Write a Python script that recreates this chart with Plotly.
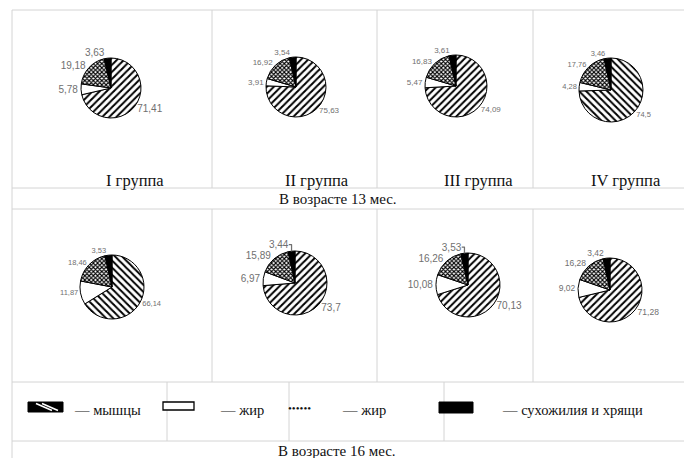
import plotly.graph_objects as go

W, H = 684, 458

components = ["мышцы", "жир", "жир", "сухожилия и хрящи"]
slice_ids = ["m", "f1", "f2", "t"]
groups = ["I группа", "II группа", "III группа", "IV группа"]
ages = ["В возрасте 13 мес.", "В возрасте 16 мес."]

vals_13 = [
    [71.41, 5.78, 19.18, 3.63],
    [75.63, 3.91, 16.92, 3.54],
    [74.09, 5.47, 16.83, 3.61],
    [74.5, 4.28, 17.76, 3.46],
]
vals_16 = [
    [66.14, 11.87, 18.46, 3.53],
    [73.7, 6.97, 15.89, 3.44],
    [70.13, 10.08, 16.26, 3.53],
    [71.28, 9.02, 16.28, 3.42],
]

# layout: pie centres (px), radius (px), hatch direction, label size
pies_13 = [((111, 88), 30, "/", 10), ((296, 87), 30, "/", 8), ((456, 86), 31, "/", 8), ((611, 90), 32, "\\", 7.5)]
pies_16 = [((112, 287), 32, "\\", 7.5), ((295, 283), 32, "/", 10), ((468, 285), 32, "/", 10), ((610, 290), 32, "/", 8.5)]

def fx(px):
    return px / W

def fy(py):
    return 1 - py / H

def fmt(v):
    return ("%g" % v).replace(".", ",")

fig = go.Figure()

def add_pie(vals, spec):
    (cx, cy), r, hatch, fs = spec
    fig.add_trace(go.Pie(
        values=vals,
        labels=slice_ids,
        customdata=components,
        text=[fmt(v) for v in vals],
        textinfo="text",
        textposition="outside",
        textfont=dict(family="Liberation Sans, Arial", size=fs, color="#707070"),
        sort=False,
        direction="clockwise",
        rotation=0,
        showlegend=False,
        hovertemplate="%{customdata}: %{text}<extra></extra>",
        domain=dict(x=[fx(cx - r), fx(cx + r)], y=[fy(cy + r), fy(cy - r)]),
        marker=dict(
            colors=["white", "white", "white", "black"],
            line=dict(color="black", width=1),
            pattern=dict(
                shape=[hatch, "", "x", ""],
                fgcolor=["black", "black", "black", "black"],
                bgcolor=["white", "white", "white", "black"],
                size=[5, 5, 3, 5],
                solidity=[0.4, 0.3, 0.6, 0.3],
            ),
        ),
    ))

for v, s in zip(vals_13, pies_13):
    add_pie(v, s)
for v, s in zip(vals_16, pies_16):
    add_pie(v, s)

shapes = []
gc = "#d4d4d4"

def hline(y, x0=12, x1=684):
    shapes.append(dict(type="line", xref="paper", yref="paper", x0=fx(x0), x1=fx(x1),
                       y0=fy(y), y1=fy(y), line=dict(color=gc, width=1)))

def vline(x, y0, y1):
    shapes.append(dict(type="line", xref="paper", yref="paper", x0=fx(x), x1=fx(x),
                       y0=fy(y0), y1=fy(y1), line=dict(color=gc, width=1)))

hline(10)
hline(188)
hline(209)
hline(382)
hline(441)
vline(12, 10, 458)
for x in [212, 377, 533]:
    vline(x, 10, 188)
    vline(x, 209, 382)
for x in [167, 289, 444]:
    vline(x, 382, 441)

# legend swatches
shapes.append(dict(type="rect", xref="paper", yref="paper", x0=fx(28), x1=fx(63), y0=fy(412), y1=fy(402),
                   fillcolor="black", line=dict(color="black", width=1)))
for off in [0, 6]:
    shapes.append(dict(type="line", xref="paper", yref="paper", x0=fx(36 + off), x1=fx(52 + off),
                       y0=fy(403.5), y1=fy(410.5), line=dict(color="white", width=1.6)))
shapes.append(dict(type="rect", xref="paper", yref="paper", x0=fx(163), x1=fx(194), y0=fy(410), y1=fy(402),
                   fillcolor="white", line=dict(color="black", width=1.3)))
shapes.append(dict(type="rect", xref="paper", yref="paper", x0=fx(439), x1=fx(473), y0=fy(413), y1=fy(402),
                   fillcolor="black", line=dict(color="black", width=1)))

annotations = []
serif = "Liberation Serif, Times New Roman, serif"

def txt(x, y, s, size=15, anchor="center"):
    annotations.append(dict(x=fx(x), y=fy(y), xref="paper", yref="paper", text=s, showarrow=False,
                            xanchor=anchor, yanchor="middle", font=dict(family=serif, size=size, color="#111111")))

for g, x in zip(groups, [135, 317, 478, 626]):
    txt(x, 180, g, 16.5)
txt(338, 199, ages[0], 15)
txt(337, 451, ages[1], 15)

txt(72, 410, "— " + components[0], 14.5, "left")
txt(218, 410, "— " + components[1], 14.5, "left")
txt(286, 408, "••••••", 11, "left")
txt(340, 410, "— " + components[2], 14.5, "left")
txt(500, 410, "— " + components[3], 14.5, "left")

fig.update_layout(
    width=W, height=H,
    margin=dict(l=0, r=0, t=0, b=0),
    paper_bgcolor="white",
    plot_bgcolor="white",
    shapes=shapes,
    annotations=annotations,
)

fig.write_html("out.html", config={"displayModeBar": False},
               post_script="document.body.style.margin='0';document.body.style.overflow='hidden';")
